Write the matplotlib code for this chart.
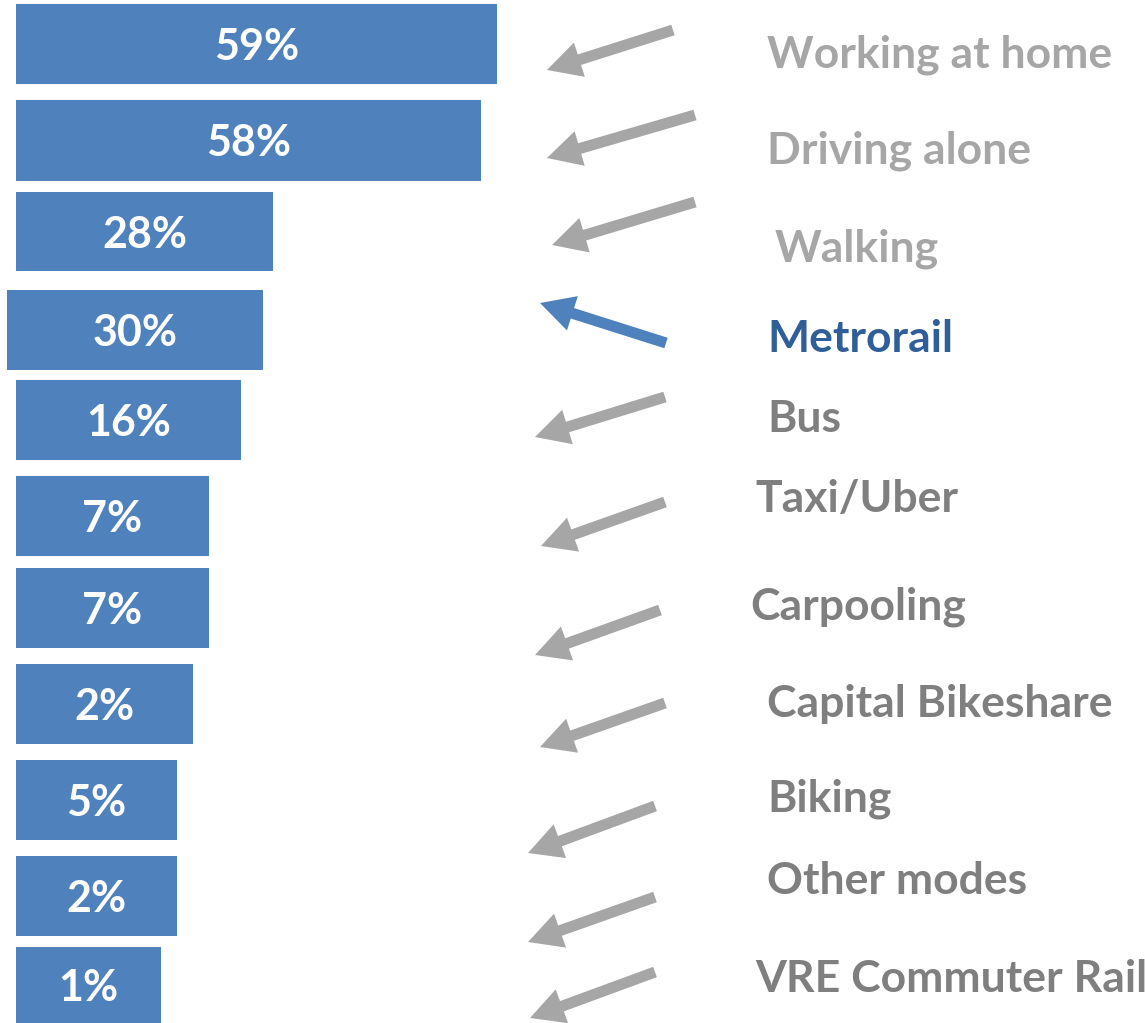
import matplotlib.pyplot as plt
from matplotlib.patches import FancyArrow

# ── data ─────────────────────────────────────────────────────────────────────
modes = ["Working at home", "Driving alone", "Walking", "Metrorail", "Bus",
         "Taxi/Uber", "Carpooling", "Capital Bikeshare", "Biking",
         "Other modes", "VRE Commuter Rail"]
pct_labels = ["59%", "58%", "28%", "30%", "16%", "7%", "7%", "2%", "5%", "2%", "1%"]
# displayed bar lengths (as drawn in the graphic, not proportional to the %)
bar_lengths = [481, 465, 257, 256, 225, 193, 193, 177, 161, 161, 145]

# ── layout (pixel coordinates, y downward) ───────────────────────────────────
bar_top = [4, 100, 192, 290, 380, 476, 568, 664, 760, 856, 947]
bar_bot = [84, 181, 271, 370, 460, 556, 648, 744, 840, 936, 1023]
bar_left = [16, 16, 16, 7, 16, 16, 16, 16, 16, 16, 16]

arrow_tail = [(673, 30), (695, 115), (695, 202), (666, 343), (665, 397),
              (665, 502), (660, 610), (665, 703), (655, 806), (655, 897),
              (655, 972)]
arrow_tip = [(547, 70), (547, 158), (552, 245), (540, 303), (535, 437),
             (541, 546), (535, 655), (540, 747), (528, 853), (528, 942),
             (530, 1018)]

label_pos = [(767, 53), (767, 149), (775, 247), (767, 337), (767, 417),
             (755, 497), (750, 605), (767, 702), (767, 797), (767, 879),
             (755, 977)]

BLUE = "#4F81BD"
LIGHT = "#A6A6A6"
DARK = "#7F7F7F"
NAVY = "#2F5E98"
label_colors = [LIGHT, LIGHT, LIGHT, NAVY] + [DARK] * 7
arrow_colors = [LIGHT, LIGHT, LIGHT, BLUE] + [LIGHT] * 7

plt.rcParams['font.family'] = ['Lato', 'DejaVu Sans']

fig = plt.figure(figsize=(11.45, 10.23), dpi=100)
ax = fig.add_axes([0, 0, 1, 1])
ax.set_xlim(0, 1145)
ax.set_ylim(1023, 0)
ax.axis("off")

centers = [(t + b) / 2 for t, b in zip(bar_top, bar_bot)]
heights = [b - t for t, b in zip(bar_top, bar_bot)]
ax.barh(centers, bar_lengths, height=heights, left=bar_left, color=BLUE)

for c, L, x0, txt in zip(centers, bar_lengths, bar_left, pct_labels):
    ax.text(x0 + L / 2, c + 3, txt, ha="center", va="center", color="white",
            fontsize=31, fontweight="bold")

for (tx, ty), (hx, hy), col in zip(arrow_tail, arrow_tip, arrow_colors):
    ax.add_patch(FancyArrow(tx, ty, hx - tx, hy - ty, width=11,
                            head_width=36, head_length=34,
                            length_includes_head=True, color=col, lw=0))

for (x, y), name, col in zip(label_pos, modes, label_colors):
    ax.text(x, y + 2, name, ha="left", va="center", color=col,
            fontsize=32, fontweight="bold")

fig.savefig("out.png", dpi=100)
